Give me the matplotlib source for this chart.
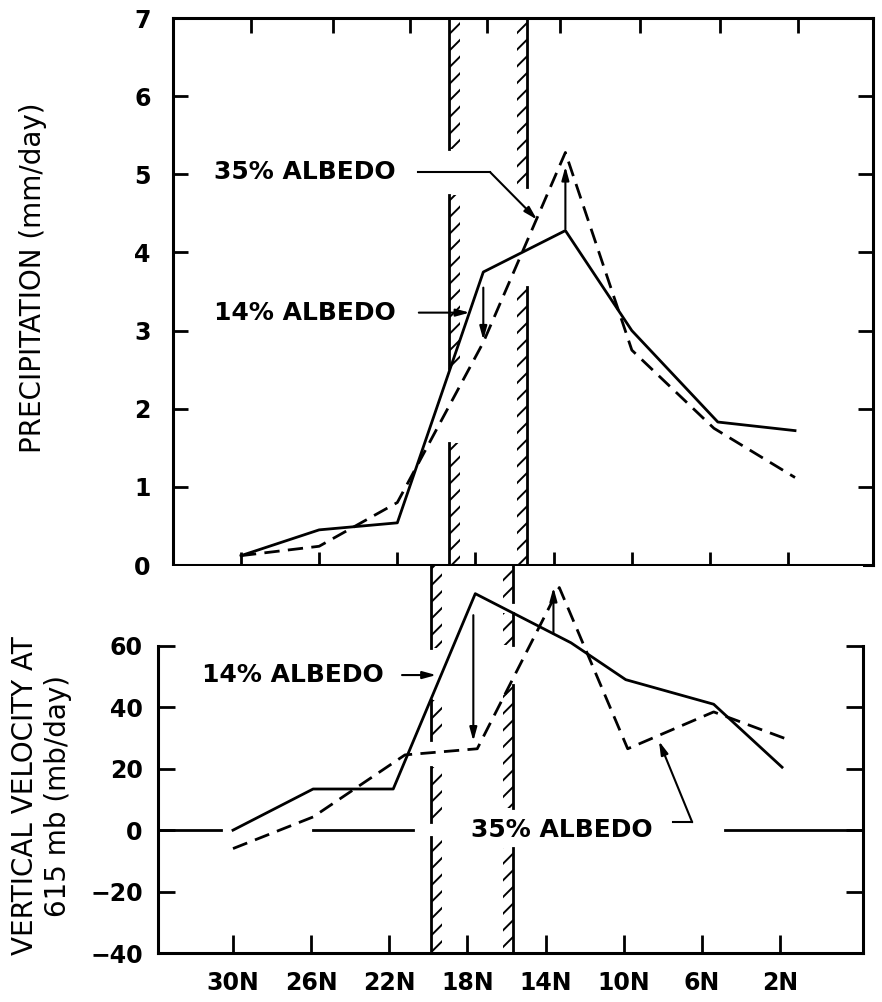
import matplotlib.pyplot as plt

# latitude (deg N) of each plotted point
lat_p14 = [30, 26, 22, 17.6, 13.4, 10.0, 5.6, 1.65]
precip_14 = [0.12, 0.45, 0.54, 3.75, 4.28, 3.0, 1.83, 1.72]
lat_p35 = [30, 26, 22, 17.6, 13.4, 10.0, 5.8, 1.65]
precip_35 = [0.12, 0.24, 0.8, 2.85, 5.28, 2.75, 1.75, 1.12]

lat_w14 = [30, 25.9, 21.8, 17.6, 12.7, 9.9, 5.4, 1.9]
omega_14 = [0, 13.4, 13.4, 77, 61, 49, 41, 20.5]
lat_w35 = [30, 25.9, 21.2, 17.5, 13.3, 9.8, 5.4, 1.6]
omega_35 = [-6, 4.3, 24.5, 26.5, 79, 26.5, 38.5, 29.5]

lat_ticks = [30, 26, 22, 18, 14, 10, 6, 2]
lat_labels = ['30N', '26N', '22N', '18N', '14N', '10N', '6N', '2N']

plt.rcParams['font.family'] = 'DejaVu Sans'
plt.rcParams['hatch.linewidth'] = 1.4
lw = 2.0
dash = (0, (5.5, 3))
arr = dict(arrowstyle='-|>,head_width=0.22,head_length=0.8', color='black', lw=1.5,
           shrinkA=0, shrinkB=0)

fig = plt.figure(figsize=(8.82, 10.02), dpi=100)
ax1 = fig.add_axes([0.1961, 0.4361, 0.7937, 0.5459])
ax2 = fig.add_axes([0.1791, 0.0489, 0.7993, 0.3862])


def hatch_bar(ax, x_line, x_hatch, spans):
    for y0, y1 in spans:
        ax.fill_betweenx([y0, y1], x_line, x_hatch, facecolor='none', edgecolor='black',
                         linewidth=0, hatch='//', zorder=1)
        ax.plot([x_line, x_line], [y0, y1], color='black', lw=lw, zorder=1)


# ---- top panel: precipitation ----
ax1.plot(lat_p14, precip_14, color='black', lw=lw)
ax1.plot(lat_p35, precip_35, color='black', lw=lw, linestyle=dash)
ax1.set_xlim(33.48, -2.34)
ax1.set_ylim(0, 7)
hatch_bar(ax1, 19.36, 18.8, [(5.33, 7), (2.52, 4.74), (0, 1.56)])
hatch_bar(ax1, 15.36, 15.87, [(4.84, 7), (0, 3.56)])

ax1.set_yticks(range(8))
ax1.set_xticks(lat_ticks)
ax1.set_xticklabels([])
ax1.tick_params(axis='y', direction='in', length=11, width=2, pad=16, labelsize=17, right=True)
ax1.tick_params(axis='x', direction='inout', length=19, width=2)
for lab in ax1.get_yticklabels():
    lab.set_fontweight('bold')
for s in ax1.spines.values():
    s.set_linewidth(2.2)
top = ax1.secondary_xaxis('top')
top.set_xticks([29.5, 25.3, 21.35, 17.4, 13.7, 9.6, 5.5, 1.5])
top.set_xticklabels([])
top.tick_params(direction='in', length=11, width=2)
top.spines['top'].set_visible(False)

ax1.text(31.4, 5.03, '35% ALBEDO', fontsize=18, fontweight='bold', va='center', ha='left')
ax1.plot([20.94, 17.26], [5.03, 5.03], color='black', lw=1.5)
ax1.annotate('', xy=(14.85, 4.42), xytext=(17.26, 5.03), arrowprops=arr)
ax1.annotate('', xy=(13.4, 5.1), xytext=(13.4, 4.3), arrowprops=arr)
ax1.text(31.4, 3.23, '14% ALBEDO', fontsize=18, fontweight='bold', va='center', ha='left')
ax1.annotate('', xy=(18.3, 3.23), xytext=(20.9, 3.23), arrowprops=arr)
ax1.annotate('', xy=(17.6, 2.88), xytext=(17.6, 3.55), arrowprops=arr)

# ---- bottom panel: vertical velocity ----
ax2.plot(lat_w14, omega_14, color='black', lw=lw)
ax2.plot(lat_w35, omega_35, color='black', lw=lw, linestyle=dash)
ax2.set_xlim(33.84, -2.24)
ax2.set_ylim(-40, 86)
hatch_bar(ax2, 19.85, 19.3, [(59.3, 86), (29.3, 42.3), (2.6, 20.5), (-40, -2.3)])
hatch_bar(ax2, 15.65, 16.2, [(74.3, 86), (60.3, 70.7), (7.2, 47.2), (-40, -5.9)])
for x0, x1 in [(33.84, 30.6), (25.9, 20.8), (4.8, -2.24)]:
    ax2.plot([x0, x1], [0, 0], color='black', lw=lw)

ax2.spines['top'].set_visible(False)
ax2.spines['left'].set_bounds(-40, 60)
ax2.spines['right'].set_bounds(-40, 60)
for s in ax2.spines.values():
    s.set_linewidth(2.2)
ax2.set_yticks([-40, -20, 0, 20, 40, 60])
ax2.set_xticks(lat_ticks)
ax2.set_xticklabels(lat_labels)
ax2.tick_params(axis='y', direction='in', length=12, width=2, pad=11, labelsize=17, right=True)
ax2.tick_params(axis='x', direction='in', length=13, width=2, pad=13, labelsize=17)
for lab in ax2.get_yticklabels() + ax2.get_xticklabels():
    lab.set_fontweight('bold')

ax2.text(31.6, 50.5, '14% ALBEDO', fontsize=18, fontweight='bold', va='center', ha='left')
ax2.annotate('', xy=(19.6, 50.5), xytext=(21.35, 50.5), arrowprops=arr)
ax2.annotate('', xy=(17.7, 29), xytext=(17.7, 70), arrowprops=arr)
ax2.annotate('', xy=(13.6, 79), xytext=(13.6, 64), arrowprops=arr)
ax2.text(13.15, 0, '35% ALBEDO', fontsize=18, fontweight='bold', va='center', ha='center')
ax2.plot([7.5, 6.5], [2.6, 2.6], color='black', lw=1.5)
ax2.annotate('', xy=(8.2, 29), xytext=(6.5, 2.6), arrowprops=arr)

fig.text(0.037, 0.7226, 'PRECIPITATION (mm/day)', rotation=90, fontsize=20,
         ha='center', va='center')
fig.text(0.047, 0.206, 'VERTICAL VELOCITY AT\n615 mb (mb/day)', rotation=90, fontsize=20,
         ha='center', va='center', linespacing=1.25, multialignment='center')

fig.savefig('out.png', dpi=100)
